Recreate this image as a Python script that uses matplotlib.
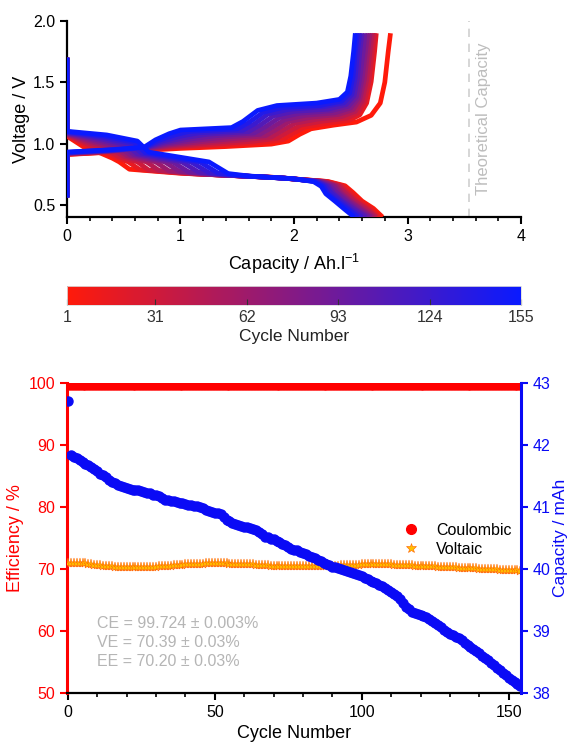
import numpy as np
import matplotlib
matplotlib.use('Agg')
import matplotlib.pyplot as plt
from matplotlib.colors import LinearSegmentedColormap, Normalize
from matplotlib.cm import ScalarMappable
from matplotlib.lines import Line2D
from matplotlib.ticker import MultipleLocator

plt.rcParams['font.family'] = ['Liberation Sans', 'DejaVu Sans']
plt.rcParams['mathtext.default'] = 'regular'

# ---------------- top panel: voltage profiles of selected cycles ----------------
KEY_CYCLES = [1, 16, 32, 47, 63, 78, 93, 109, 124, 140, 155]

# discharge curves: each row is one feature point, columns follow KEY_CYCLES
DIS_X = [
    [0.0] * 11,
    [0.0] * 11,
    [0.15, 0.17, 0.19, 0.21, 0.23, 0.25, 0.27, 0.29, 0.31, 0.33, 0.35],
    [0.30, 0.33, 0.36, 0.40, 0.43, 0.46, 0.49, 0.52, 0.56, 0.59, 0.62],
    [0.40, 0.43, 0.46, 0.50, 0.53, 0.56, 0.59, 0.62, 0.66, 0.69, 0.72],
    [0.46, 0.54, 0.62, 0.70, 0.78, 0.86, 0.93, 1.01, 1.09, 1.17, 1.25],
    [0.55, 0.64, 0.72, 0.81, 0.90, 0.99, 1.07, 1.16, 1.25, 1.33, 1.42],
    [1.00, 1.06, 1.12, 1.18, 1.24, 1.30, 1.36, 1.42, 1.48, 1.54, 1.60],
    [1.80, 1.82, 1.84, 1.86, 1.88, 1.90, 1.92, 1.94, 1.96, 1.98, 2.00],
    [2.30, 2.29, 2.27, 2.26, 2.25, 2.24, 2.22, 2.21, 2.20, 2.18, 2.17],
    [2.45, 2.43, 2.41, 2.39, 2.37, 2.35, 2.32, 2.30, 2.28, 2.26, 2.24],
    [2.52, 2.50, 2.47, 2.45, 2.42, 2.40, 2.38, 2.35, 2.33, 2.30, 2.28],
    [2.60, 2.58, 2.55, 2.53, 2.50, 2.48, 2.46, 2.43, 2.41, 2.38, 2.36],
    [2.70, 2.68, 2.65, 2.63, 2.60, 2.58, 2.55, 2.53, 2.50, 2.48, 2.45],
    [2.78, 2.75, 2.73, 2.72, 2.70, 2.68, 2.66, 2.635, 2.60, 2.565, 2.53],
]
DIS_V = [
    [1.70] * 11,
    [1.060, 1.064, 1.068, 1.072, 1.076, 1.080, 1.084, 1.088, 1.092, 1.096, 1.100],
    [0.97, 0.98, 0.99, 1.00, 1.01, 1.02, 1.03, 1.04, 1.05, 1.06, 1.07],
    [0.92, 0.93, 0.94, 0.95, 0.96, 0.97, 0.98, 0.99, 1.00, 1.01, 1.02],
    [0.880, 0.885, 0.890, 0.895, 0.900, 0.905, 0.910, 0.915, 0.920, 0.925, 0.930],
    [0.85] * 11,
    [0.790, 0.787, 0.783, 0.780, 0.776, 0.773, 0.769, 0.766, 0.762, 0.759, 0.755],
    [0.757, 0.755, 0.753, 0.750, 0.748, 0.746, 0.744, 0.742, 0.739, 0.737, 0.735],
    [0.725, 0.724, 0.722, 0.721, 0.720, 0.718, 0.717, 0.716, 0.715, 0.713, 0.712],
    [0.69] * 11,
    [0.655, 0.655, 0.654, 0.654, 0.653, 0.653, 0.652, 0.652, 0.651, 0.651, 0.650],
    [0.600, 0.600, 0.598, 0.597, 0.596, 0.595, 0.594, 0.593, 0.592, 0.591, 0.590],
    [0.53] * 11,
    [0.470, 0.470, 0.468, 0.467, 0.466, 0.465, 0.464, 0.463, 0.462, 0.461, 0.460],
    [0.40] * 11,
]

# charge curves: each row is one feature point, columns follow KEY_CYCLES
CHG_X = [
    [0.0] * 11,
    [0.0] * 11,
    [0.40] * 11,
    [0.700, 0.698, 0.696, 0.694, 0.692, 0.690, 0.688, 0.686, 0.684, 0.682, 0.680],
    [1.000, 0.978, 0.956, 0.934, 0.912, 0.890, 0.868, 0.846, 0.824, 0.802, 0.780],
    [1.40, 1.35, 1.30, 1.25, 1.20, 1.15, 1.10, 1.05, 1.00, 0.95, 0.90],
    [1.80, 1.72, 1.64, 1.56, 1.48, 1.40, 1.32, 1.24, 1.16, 1.08, 1.00],
    [1.95, 1.90, 1.85, 1.80, 1.75, 1.70, 1.65, 1.60, 1.55, 1.50, 1.45],
    [2.05, 2.00, 1.95, 1.90, 1.85, 1.80, 1.75, 1.70, 1.65, 1.60, 1.55],
    [2.15, 2.10, 2.06, 2.01, 1.96, 1.92, 1.87, 1.82, 1.77, 1.73, 1.68],
    [2.35, 2.30, 2.25, 2.20, 2.15, 2.10, 2.05, 2.00, 1.95, 1.90, 1.85],
    [2.55, 2.49, 2.46, 2.42, 2.39, 2.36, 2.33, 2.30, 2.26, 2.23, 2.20],
    [2.68, 2.58, 2.56, 2.54, 2.52, 2.50, 2.48, 2.46, 2.44, 2.42, 2.40],
    [2.76, 2.64, 2.62, 2.60, 2.58, 2.565, 2.55, 2.53, 2.51, 2.49, 2.47],
    [2.80, 2.68, 2.66, 2.64, 2.62, 2.60, 2.58, 2.56, 2.54, 2.52, 2.50],
    [2.83, 2.71, 2.69, 2.67, 2.65, 2.63, 2.61, 2.58, 2.56, 2.54, 2.525],
    [2.85, 2.725, 2.71, 2.69, 2.67, 2.65, 2.625, 2.60, 2.58, 2.56, 2.54],
]
CHG_V = [
    [0.56] * 11,
    [0.910, 0.912, 0.914, 0.916, 0.918, 0.920, 0.922, 0.924, 0.926, 0.928, 0.930],
    [0.930, 0.932, 0.934, 0.936, 0.938, 0.940, 0.942, 0.944, 0.946, 0.948, 0.950],
    [0.945, 0.948, 0.950, 0.953, 0.955, 0.958, 0.960, 0.963, 0.965, 0.968, 0.970],
    [0.960, 0.967, 0.974, 0.981, 0.988, 0.995, 1.002, 1.009, 1.016, 1.023, 1.030],
    [0.975, 0.986, 0.996, 1.007, 1.017, 1.028, 1.038, 1.049, 1.059, 1.070, 1.080],
    [0.995, 1.007, 1.018, 1.030, 1.041, 1.053, 1.064, 1.076, 1.087, 1.099, 1.110],
    [1.020, 1.031, 1.042, 1.053, 1.064, 1.075, 1.086, 1.097, 1.108, 1.119, 1.130],
    [1.075, 1.086, 1.096, 1.107, 1.117, 1.128, 1.138, 1.149, 1.159, 1.170, 1.180],
    [1.120, 1.135, 1.150, 1.165, 1.180, 1.195, 1.210, 1.225, 1.240, 1.255, 1.270],
    [1.150, 1.166, 1.182, 1.198, 1.214, 1.230, 1.246, 1.262, 1.278, 1.294, 1.310],
    [1.175, 1.190, 1.206, 1.220, 1.237, 1.250, 1.268, 1.280, 1.300, 1.310, 1.330],
    [1.230, 1.234, 1.248, 1.262, 1.276, 1.290, 1.304, 1.318, 1.332, 1.346, 1.360],
    [1.33, 1.33, 1.34, 1.35, 1.36, 1.37, 1.38, 1.39, 1.40, 1.41, 1.42],
    [1.500, 1.505, 1.510, 1.515, 1.520, 1.525, 1.530, 1.535, 1.540, 1.545, 1.550],
    [1.75] * 11,
    [1.90] * 11,
]

THEORETICAL_CAPACITY = 3.54
CBAR_TICKS = [1, 31, 62, 93, 124, 155]

# ---------------- bottom panel: cycling data ----------------
CAPACITY_MAH = [
    42.71, 41.84, 41.81, 41.79, 41.76, 41.73, 41.70, 41.67, 41.65, 41.62,
    41.58, 41.54, 41.51, 41.48, 41.44, 41.41, 41.38, 41.36, 41.34, 41.32,
    41.30, 41.29, 41.28, 41.28, 41.27, 41.26, 41.24, 41.23, 41.22, 41.20,
    41.19, 41.17, 41.14, 41.12, 41.11, 41.10, 41.09, 41.08, 41.07, 41.06,
    41.05, 41.04, 41.03, 41.02, 41.01, 41.00, 40.98, 40.96, 40.94, 40.92,
    40.91, 40.90, 40.89, 40.84, 40.79, 40.77, 40.75, 40.73, 40.71, 40.70,
    40.68, 40.67, 40.66, 40.64, 40.63, 40.59, 40.56, 40.52, 40.51, 40.49,
    40.48, 40.46, 40.43, 40.41, 40.38, 40.36, 40.33, 40.31, 40.30, 40.28,
    40.26, 40.24, 40.21, 40.19, 40.17, 40.15, 40.13, 40.10, 40.08, 40.06,
    40.04, 40.03, 40.01, 40.00, 39.98, 39.97, 39.95, 39.93, 39.92, 39.90,
    39.88, 39.86, 39.84, 39.81, 39.79, 39.77, 39.74, 39.72, 39.69, 39.66,
    39.63, 39.59, 39.56, 39.52, 39.45, 39.39, 39.35, 39.31, 39.29, 39.27,
    39.26, 39.24, 39.22, 39.20, 39.16, 39.13, 39.09, 39.06, 39.02, 38.99,
    38.96, 38.93, 38.91, 38.88, 38.85, 38.81, 38.78, 38.74, 38.71, 38.67,
    38.64, 38.60, 38.56, 38.53, 38.49, 38.45, 38.41, 38.37, 38.33, 38.29,
    38.25, 38.21, 38.18, 38.14, 38.11,
]
CE = [
    99.70, 99.72, 99.73, 99.71, 99.72, 99.74, 99.72, 99.71, 99.73, 99.72,
    99.72, 99.73, 99.71, 99.72, 99.74, 99.72, 99.71, 99.72, 99.73, 99.72,
    99.71, 99.72, 99.73, 99.72, 99.72, 99.74, 99.71, 99.72, 99.73, 99.72,
    99.72, 99.71, 99.73, 99.72, 99.72, 99.73, 99.72, 99.71, 99.72, 99.73,
    99.72, 99.72, 99.74, 99.71, 99.72, 99.73, 99.72, 99.72, 99.71, 99.73,
    99.72, 99.72, 99.73, 99.71, 99.72, 99.72, 99.74, 99.72, 99.71, 99.72,
    99.73, 99.72, 99.72, 99.71, 99.73, 99.72, 99.72, 99.74, 99.72, 99.71,
    99.72, 99.73, 99.72, 99.72, 99.71, 99.73, 99.72, 99.72, 99.73, 99.72,
    99.71, 99.72, 99.74, 99.72, 99.72, 99.71, 99.73, 99.72, 99.72, 99.73,
    99.72, 99.71, 99.72, 99.73, 99.72, 99.72, 99.74, 99.71, 99.72, 99.73,
    99.72, 99.72, 99.71, 99.73, 99.72, 99.72, 99.73, 99.72, 99.71, 99.72,
    99.74, 99.72, 99.72, 99.71, 99.73, 99.72, 99.72, 99.73, 99.72, 99.71,
    99.72, 99.73, 99.72, 99.72, 99.74, 99.71, 99.72, 99.73, 99.72, 99.72,
    99.71, 99.73, 99.72, 99.72, 99.73, 99.72, 99.71, 99.72, 99.74, 99.72,
    99.72, 99.71, 99.73, 99.72, 99.72, 99.73, 99.72, 99.71, 99.72, 99.73,
    99.72, 99.72, 99.74, 99.71, 99.72,
]
VE = [
    70.90, 70.95, 71.00, 71.00, 70.98, 70.95, 70.90, 70.83, 70.77, 70.70,
    70.63, 70.57, 70.50, 70.47, 70.45, 70.42, 70.40, 70.37, 70.35, 70.34,
    70.33, 70.33, 70.32, 70.31, 70.30, 70.30, 70.30, 70.32, 70.35, 70.37,
    70.40, 70.42, 70.45, 70.47, 70.50, 70.54, 70.58, 70.61, 70.65, 70.69,
    70.73, 70.76, 70.80, 70.82, 70.84, 70.86, 70.88, 70.90, 70.92, 70.93,
    70.95, 70.94, 70.93, 70.92, 70.90, 70.89, 70.88, 70.86, 70.85, 70.83,
    70.81, 70.79, 70.77, 70.74, 70.72, 70.70, 70.66, 70.63, 70.59, 70.56,
    70.52, 70.49, 70.45, 70.44, 70.45, 70.46, 70.45, 70.44, 70.45, 70.46,
    70.45, 70.44, 70.45, 70.46, 70.45, 70.45, 70.46, 70.48, 70.49, 70.51,
    70.52, 70.54, 70.55, 70.57, 70.58, 70.60, 70.63, 70.66, 70.69, 70.71,
    70.74, 70.77, 70.80, 70.80, 70.79, 70.79, 70.78, 70.77, 70.77, 70.76,
    70.75, 70.72, 70.70, 70.67, 70.65, 70.62, 70.60, 70.57, 70.55, 70.53,
    70.51, 70.49, 70.47, 70.46, 70.44, 70.42, 70.40, 70.38, 70.36, 70.33,
    70.31, 70.29, 70.27, 70.24, 70.22, 70.20, 70.18, 70.15, 70.13, 70.10,
    70.08, 70.05, 70.03, 70.00, 69.98, 69.95, 69.93, 69.91, 69.88, 69.86,
    69.84, 69.82, 69.80, 69.78, 69.75,
]
CYCLES = list(range(len(CAPACITY_MAH)))
STATS_TEXT = ["CE = 99.724 \u00b1 0.003%", "VE = 70.39 \u00b1 0.03%", "EE = 70.20 \u00b1 0.03%"]

RED = '#FF0000'
BLUE = '#0A0AF5'
VE_FACE = '#FFC000'
VE_EDGE = '#FF5A00'
cmap = LinearSegmentedColormap.from_list('rb', ['#FF1A0A', '#0A1AFF'])
norm = Normalize(vmin=1, vmax=155)

fig = plt.figure(figsize=(5.74, 7.44), dpi=100)

# ----- top axes -----
ax1 = fig.add_axes([0.1167, 0.7083, 0.791, 0.2635])
dis_x = np.array(DIS_X).T
dis_v = np.array(DIS_V).T
chg_x = np.array(CHG_X).T
chg_v = np.array(CHG_V).T
for i, cyc in enumerate(KEY_CYCLES):
    col = cmap(norm(cyc))
    ax1.plot(dis_x[i], dis_v[i], color=col, lw=3.4, zorder=3 + i * 0.01,
             solid_joinstyle='round', solid_capstyle='butt')
    ax1.plot(chg_x[i], chg_v[i], color=col, lw=3.4, zorder=3 + i * 0.01,
             solid_joinstyle='round', solid_capstyle='butt')

ax1.axvline(THEORETICAL_CAPACITY, color='#CFCFCF', lw=1.2, ls=(0, (5, 4)), zorder=1)
ax1.text(THEORETICAL_CAPACITY + 0.13, 1.2, 'Theoretical Capacity', rotation=90,
         color='#BDBDBD', fontsize=12, ha='center', va='center')
ax1.set_xlim(0, 4)
ax1.set_ylim(0.4, 2.0)
ax1.set_xticks([0, 1, 2, 3, 4])
ax1.xaxis.set_minor_locator(MultipleLocator(0.2))
ax1.set_yticks([0.5, 1.0, 1.5, 2.0])
ax1.spines['top'].set_visible(False)
ax1.spines['right'].set_visible(False)
for s in ['left', 'bottom']:
    ax1.spines[s].set_linewidth(1.6)
ax1.tick_params(which='major', direction='out', length=5, width=1.5, labelsize=11.5)
ax1.tick_params(which='minor', direction='out', length=3, width=1.2)
ax1.set_xlabel('Capacity / Ah.l$^{-1}$', fontsize=13, labelpad=6)
ax1.set_ylabel('Voltage / V', fontsize=13, labelpad=2)

# ----- colorbar -----
cax = fig.add_axes([0.1167, 0.590, 0.791, 0.0255])
cb = fig.colorbar(ScalarMappable(norm=norm, cmap=cmap), cax=cax, orientation='horizontal')
cb.set_ticks(CBAR_TICKS)
cb.ax.tick_params(direction='in', length=4, width=0.8, labelsize=11.5, colors='#333333')
cb.outline.set_edgecolor('#DDDDDD')
cb.outline.set_linewidth(0.6)
cb.set_label('Cycle Number', fontsize=12.5, color='#222222', labelpad=3)

# ----- bottom axes -----
ax2 = fig.add_axes([0.1167, 0.0685, 0.791, 0.4167])
ax2.plot(CYCLES, CE, 'o', color=RED, ms=6.5, mec=RED, ls='none', label='Coulombic', zorder=3)
ax2.plot(CYCLES, VE, '*', color=VE_FACE, ms=6.5, mec=VE_EDGE, mew=0.35, ls='none',
         label='Voltaic', zorder=3)
ax2.set_xlim(-0.3, 154.2)
ax2.set_ylim(50, 100)
ax2.set_yticks([50, 60, 70, 80, 90, 100])
ax2.set_xticks([0, 50, 100, 150])
ax2.xaxis.set_minor_locator(MultipleLocator(10))
ax2.spines['top'].set_visible(False)
ax2.spines['right'].set_visible(False)
ax2.spines['left'].set_color(RED)
ax2.spines['left'].set_linewidth(2.2)
ax2.spines['bottom'].set_linewidth(1.6)
ax2.tick_params(axis='y', colors=RED, direction='out', length=5, width=1.5, labelsize=11.5)
ax2.tick_params(axis='x', which='major', direction='out', length=5, width=1.5, labelsize=11.5)
ax2.tick_params(axis='x', which='minor', direction='out', length=3, width=1.2)
ax2.set_xlabel('Cycle Number', fontsize=13, labelpad=4)
ax2.set_ylabel('Efficiency / %', fontsize=13, color=RED, labelpad=3)

ax3 = ax2.twinx()
ax3.plot(CYCLES, CAPACITY_MAH, 'o', color=BLUE, ms=6.5, mec=BLUE, ls='none', zorder=4)
ax3.set_ylim(38, 43)
ax3.set_yticks([38, 39, 40, 41, 42, 43])
ax3.spines['top'].set_visible(False)
ax3.spines['left'].set_visible(False)
ax3.spines['bottom'].set_visible(False)
ax3.spines['right'].set_color(BLUE)
ax3.spines['right'].set_linewidth(2.2)
ax3.tick_params(axis='y', colors=BLUE, direction='out', length=5, width=1.5, labelsize=11.5)
ax3.set_ylabel('Capacity / mAh', fontsize=12.5, color=BLUE, labelpad=2)

handles = [
    Line2D([], [], marker='o', color=RED, ls='none', ms=7),
    Line2D([], [], marker='*', color=VE_FACE, mec=VE_EDGE, mew=0.4, ls='none', ms=7),
]
ax3.legend(handles, ['Coulombic', 'Voltaic'], loc='center left',
           bbox_to_anchor=(0.69, 0.495), frameon=False, fontsize=11.5,
           handletextpad=0.6, labelspacing=0.25)

for k, line in enumerate(STATS_TEXT):
    ax2.text(0.066, 0.225 - k * 0.062, line, transform=ax2.transAxes,
             color='#B5B5B5', fontsize=11.5, va='center', ha='left')

fig.savefig('out.png', dpi=100)
